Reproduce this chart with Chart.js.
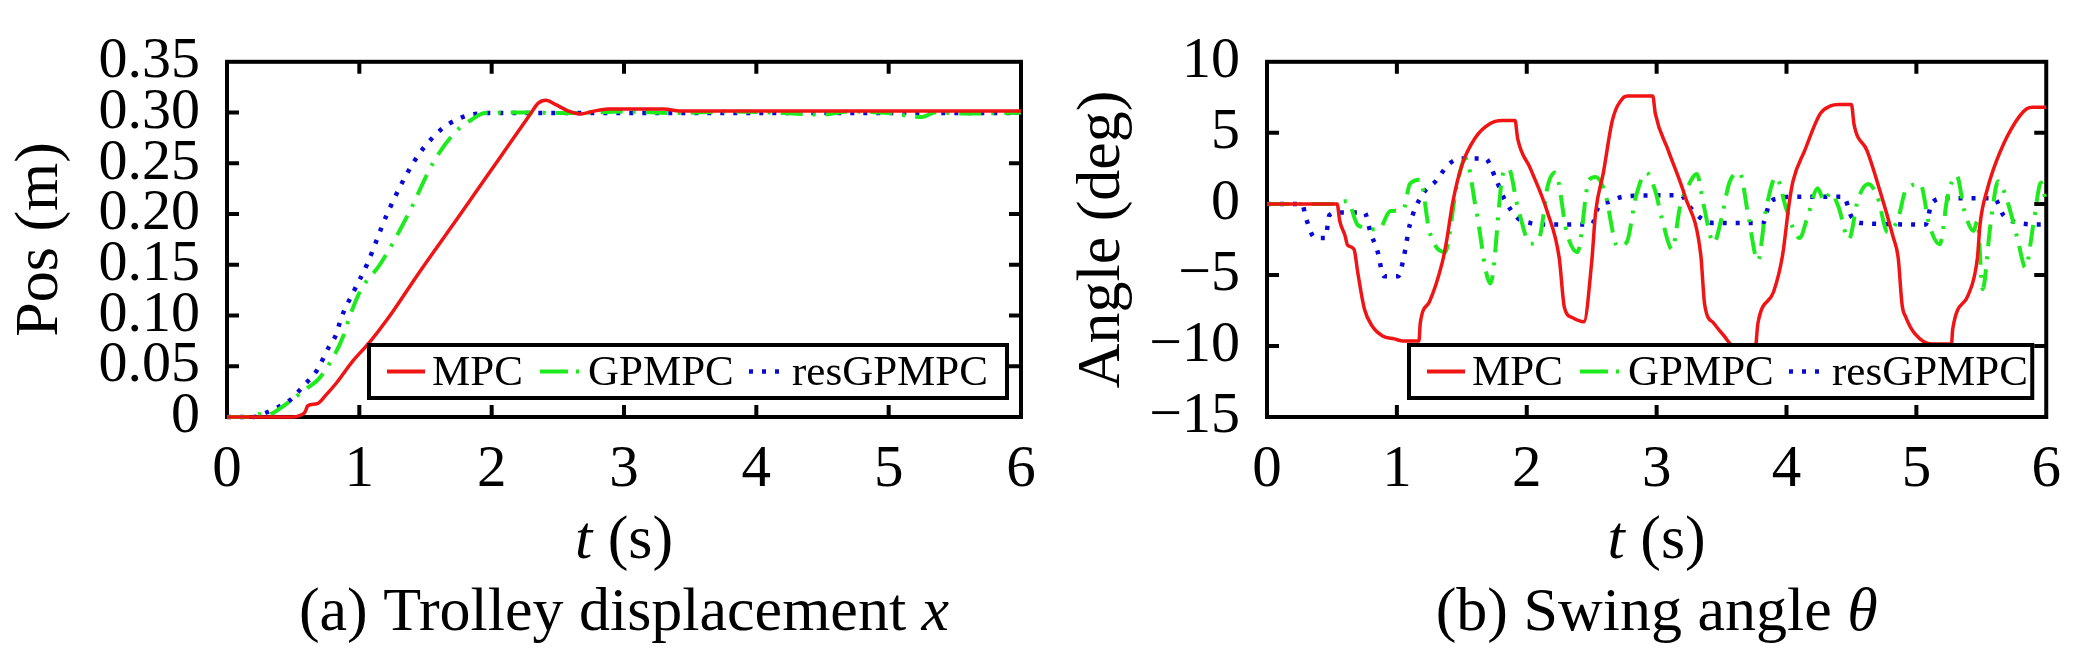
<!DOCTYPE html>
<html>
<head>
<meta charset="utf-8">
<script src="https://cdn.jsdelivr.net/npm/chart.js@4.4.1/dist/chart.umd.min.js"></script>
<style>
  html, body { margin: 0; padding: 0; background: #fff; }
  body { width: 2079px; height: 654px; position: relative; overflow: hidden; }
  canvas { position: absolute; top: 0; }
  #posChart { left: 0; }
  #angChart { left: 1062px; }
</style>
</head>
<body>
<canvas id="posChart" width="1062" height="654"></canvas>
<canvas id="angChart" width="1017" height="654"></canvas>
<script>
// series names
const seriesNames = ['MPC', 'GPMPC', 'resGPMPC'];

// (a) trolley position (m)
const tPosMpc = [0, 0.5, 0.55, 0.59, 0.61, 0.68, 0.75, 0.83, 0.95, 1.08, 1.21, 1.45, 1.77, 2.07, 2.29, 2.35, 2.41, 2.48, 2.58, 2.67, 2.76, 2.88, 3.30, 3.42, 6.0];
const posMpc = [0, 0, 0.0015, 0.005, 0.011, 0.013, 0.022, 0.034, 0.055, 0.074, 0.096, 0.142, 0.201, 0.257, 0.298, 0.309, 0.312, 0.308, 0.3015, 0.2985, 0.301, 0.3035, 0.3035, 0.3015, 0.3015];

const tPosGp = [0, 0.2, 0.24, 0.29, 0.36, 0.49, 0.60, 0.69, 0.79, 0.88, 0.93, 1.01, 1.16, 1.37, 1.56, 1.72, 1.86, 1.95, 2.3, 2.6, 3.0, 3.4, 3.8, 4.2, 4.5, 4.7, 5.0, 5.25, 5.35, 5.6, 6.0];
const posGp = [0, 0, 0.003, 0.001, 0.005, 0.017, 0.028, 0.037, 0.056, 0.08, 0.10, 0.125, 0.151, 0.20, 0.251, 0.28, 0.294, 0.2995, 0.300, 0.2995, 0.301, 0.2995, 0.301, 0.2995, 0.298, 0.301, 0.2995, 0.2955, 0.300, 0.299, 0.300];

const tPosRes = [0, 0.2, 0.27, 0.375, 0.48, 0.58, 0.68, 0.77, 0.82, 0.87, 0.955, 1.06, 1.21, 1.41, 1.59, 1.77, 1.98, 6.0];
const posRes = [0, 0, 0.003, 0.009, 0.017, 0.031, 0.046, 0.069, 0.08, 0.10, 0.123, 0.151, 0.20, 0.251, 0.28, 0.295, 0.2995, 0.2995];

// (b) swing angle (deg)
const tAngMpc = [0, 0.54, 0.56, 0.60, 0.62, 0.67, 0.70, 0.75, 0.81, 0.89, 0.98, 1.05, 1.17, 1.18, 1.25, 1.35, 1.38, 1.43, 1.50, 1.60,
  1.71, 1.81, 1.91, 1.93, 2.03, 2.16, 2.25, 2.29, 2.35, 2.44, 2.50, 2.53, 2.59, 2.66, 2.74, 2.78, 2.97, 2.99, 3.09, 3.22,
  3.34, 3.37, 3.44, 3.52, 3.59, 3.76, 3.78, 3.90, 3.97, 4.02, 4.05, 4.14, 4.26, 4.34, 4.40, 4.50, 4.52, 4.62, 4.72, 4.82,
  4.86, 4.89, 4.92, 4.99, 5.12, 5.27, 5.28, 5.40, 5.47, 5.49, 5.55, 5.62, 5.73, 5.85, 5.90, 6.0];
const angMpc = [0, 0, -1.2, -2.2, -2.9, -3.2, -4.9, -7.4, -8.6, -9.3, -9.5, -9.65, -9.65, -8.4, -6.9, -4.1, -2.75, 0.1, 2.7, 4.6,
  5.6, 5.86, 5.86, 4.6, 2.45, -0.6, -3.8, -7.3, -8.0, -8.3, -4.1, -0.6, 2.2, 5.9, 7.45, 7.6, 7.6, 6.35, 3.75, 0.5,
  -3.6, -7.1, -8.4, -9.3, -10.0, -10.1, -8.4, -6.2, -3.6, 0, 1.6, 3.75, 6.35, 6.9, 7.0, 7.0, 5.6, 3.75, 0.9, -2.3,
  -3.8, -7.1, -8.0, -9.15, -9.87, -9.87, -8.8, -6.4, -3.8, -1.45, 1.15, 3.1, 5.27, 6.7, 6.8, 6.8];

const tAngGp = [0, 0.50, 0.62, 0.70, 0.86, 0.95, 1.05, 1.10, 1.18, 1.25, 1.37, 1.46, 1.53, 1.61, 1.72, 1.82, 1.86, 1.93, 2.03, 2.10,
  2.16, 2.22, 2.31, 2.39, 2.48, 2.53, 2.60, 2.70, 2.77, 2.84, 2.92, 2.99, 3.04, 3.12, 3.18, 3.24, 3.31, 3.36, 3.44, 3.50,
  3.56, 3.64, 3.70, 3.78, 3.84, 3.92, 4.00, 4.10, 4.16, 4.24, 4.29, 4.34, 4.40, 4.48, 4.55, 4.63, 4.70, 4.78, 4.86, 4.92,
  5.03, 5.10, 5.18, 5.24, 5.31, 5.37, 5.44, 5.47, 5.51, 5.57, 5.63, 5.70, 5.78, 5.84, 5.90, 5.96, 6.0];
const angGp = [0, 0, 0.2, -1.5, -1.8, -0.5, -0.4, 1.4, 1.7, -1.9, -3.4, 1.2, 3.2, -0.4, -5.6, 2.2, 2.5, -0.2, -2.8, -2.3,
  1.2, 2.2, -2.1, -3.4, 1.7, 1.9, 0.9, -3.0, -2.7, 0.5, 2.2, 0.9, -1.0, -3.2, -0.2, 1.2, 2.1, 0, -2.75, -1.0,
  1.5, 2.2, -0.5, -4.0, -0.5, 1.9, -0.4, -2.4, -1.0, 1.1, 0.2, 0.8, -0.2, -2.5, 0.3, 1.4, 0.5, -2.0, -1.0, 1.0,
  1.4, -1.5, -2.85, 0.5, 2.0, -0.5, -1.9, -1.2, -6.0, -1.5, 1.6, 0.2, -2.5, -4.5, -1.5, 1.5, 0];

const tAngRes = [0, 0.27, 0.30, 0.37, 0.45, 0.48, 0.55, 0.75, 0.80, 0.85, 0.90, 1.01, 1.05, 1.10, 1.20, 1.30, 1.40, 1.50, 1.68, 1.76,
  1.83, 1.93, 2.03, 2.11, 2.50, 2.55, 2.64, 2.74, 3.02, 3.19, 3.24, 3.34, 3.44, 3.82, 3.87, 3.95, 4.02, 4.44, 4.50, 4.58,
  5.07, 5.12, 5.22, 5.60, 5.67, 5.75, 5.95, 6.0];
const angRes = [0, 0, -1.0, -2.4, -2.4, -0.8, -0.6, -0.6, -2.1, -3.3, -5.1, -5.1, -3.9, -1.45, 0.7, 1.6, 2.8, 3.2, 3.2, 1.8,
  0.3, -1.0, -1.35, -1.45, -1.45, -0.26, 0.17, 0.5, 0.6, 0.6, -0.05, -1.0, -1.35, -1.35, 0.07, 0.4, 0.5, 0.5, -0.9, -1.35,
  -1.45, 0.07, 0.4, 0.4, -0.8, -1.25, -1.45, -1.45];

const FONT = 'Liberation Serif';
const colMpc = 'rgb(240,20,20)';
const colGp = 'rgb(30,235,30)';
const colRes = 'rgb(10,10,215)';
const dashGp = [22, 10, 3, 10];
const dashRes = [4, 9];

function pts(ts, vs) {
  return ts.map((t, i) => ({ x: t, y: vs[i] }));
}

function makeSets(a, b, c) {
  const common = { pointRadius: 0, cubicInterpolationMode: 'monotone', clip: 4 };
  return [
    Object.assign({ label: seriesNames[0], data: a, borderColor: colMpc, borderWidth: 3.5 }, common),
    Object.assign({ label: seriesNames[1], data: b, borderColor: colGp, borderWidth: 4, borderDash: dashGp }, common),
    Object.assign({ label: seriesNames[2], data: c, borderColor: colRes, borderWidth: 4.5, borderDash: dashRes }, common)
  ];
}

// box with inward ticks under the lines, then legend, x title and caption on top
const framePlugin = {
  id: 'frame',
  beforeDatasetsDraw(chart) {
    const ctx = chart.ctx;
    const a = chart.chartArea;
    const xs = chart.scales.x, ys = chart.scales.y;
    ctx.save();
    ctx.strokeStyle = '#000';
    ctx.lineWidth = 4;
    ctx.setLineDash([]);
    ctx.strokeRect(a.left, a.top, a.right - a.left, a.bottom - a.top);
    const tl = 12;
    ctx.beginPath();
    xs.ticks.forEach(t => {
      const x = xs.getPixelForValue(t.value);
      if (x <= a.left + 1 || x >= a.right - 1) return;
      ctx.moveTo(x, a.bottom); ctx.lineTo(x, a.bottom - tl);
      ctx.moveTo(x, a.top); ctx.lineTo(x, a.top + tl);
    });
    ys.ticks.forEach(t => {
      const y = ys.getPixelForValue(t.value);
      if (y <= a.top + 1 || y >= a.bottom - 1) return;
      ctx.moveTo(a.left, y); ctx.lineTo(a.left + tl, y);
      ctx.moveTo(a.right, y); ctx.lineTo(a.right - tl, y);
    });
    ctx.stroke();
    ctx.restore();
  },
  afterDraw(chart, args, opts) {
    const ctx = chart.ctx;
    const a = chart.chartArea;
    ctx.save();
    // legend
    const lx = a.left + 142, rx = a.right - 14;
    const by = a.bottom - 19, ty = a.bottom - 72;
    ctx.fillStyle = '#fff';
    ctx.fillRect(lx, ty, rx - lx, by - ty);
    ctx.strokeStyle = '#000';
    ctx.lineWidth = 4;
    ctx.setLineDash([]);
    ctx.strokeRect(lx, ty, rx - lx, by - ty);
    const cy = (ty + by) / 2;
    ctx.font = '43px "' + FONT + '"';
    ctx.fillStyle = '#000';
    ctx.textBaseline = 'middle';
    ctx.textAlign = 'left';
    ctx.strokeStyle = colMpc;
    ctx.beginPath(); ctx.moveTo(lx + 18, cy); ctx.lineTo(lx + 56, cy); ctx.stroke();
    ctx.fillText(seriesNames[0], lx + 63, cy + 2);
    ctx.strokeStyle = colGp;
    ctx.setLineDash([28, 8, 3, 8]);
    ctx.beginPath(); ctx.moveTo(lx + 171, cy); ctx.lineTo(lx + 211, cy); ctx.stroke();
    ctx.fillText(seriesNames[1], lx + 219, cy + 2);
    ctx.strokeStyle = colRes;
    ctx.lineWidth = 4.5;
    ctx.setLineDash(dashRes);
    ctx.beginPath(); ctx.moveTo(lx + 380, cy); ctx.lineTo(lx + 416, cy); ctx.stroke();
    ctx.setLineDash([]);
    ctx.fillText(seriesNames[2], lx + 423, cy + 2);

    // x title and caption
    const mid = (a.left + a.right) / 2;
    ctx.textBaseline = 'alphabetic';
    drawMixed(ctx, [['t', true], [' (s)', false]], mid, 558, 62);
    drawMixed(ctx, opts.caption, mid, 630, 62);
    ctx.restore();
  }
};

function drawMixed(ctx, parts, cx, y, size) {
  let w = 0;
  parts.forEach(p => {
    ctx.font = (p[1] ? 'italic ' : '') + size + 'px "' + FONT + '"';
    w += ctx.measureText(p[0]).width;
  });
  let x = cx - w / 2;
  ctx.textAlign = 'left';
  parts.forEach(p => {
    ctx.font = (p[1] ? 'italic ' : '') + size + 'px "' + FONT + '"';
    ctx.fillText(p[0], x, y);
    x += ctx.measureText(p[0]).width;
  });
}

function makeOptions(yMin, yMax, yStep, yTitle, yWidth, padRight, fmt, caption) {
  return {
    responsive: false,
    animation: false,
    devicePixelRatio: 1,
    layout: { padding: { left: 0, right: padRight, top: 34, bottom: 0 } },
    plugins: {
      legend: { display: false },
      tooltip: { enabled: false },
      frame: { caption: caption }
    },
    scales: {
      x: {
        type: 'linear', min: 0, max: 6,
        grid: { display: false, drawTicks: false },
        border: { display: false },
        ticks: { stepSize: 1, padding: 18, autoSkip: false, color: '#000', font: { family: FONT, size: 59 }, maxRotation: 0 },
        afterFit(s) { s.height = 237; }
      },
      y: {
        min: yMin, max: yMax,
        grid: { display: false, drawTicks: false },
        border: { display: false },
        ticks: { stepSize: yStep, padding: 27, autoSkip: false, color: '#000', font: { family: FONT, size: 58 }, callback: fmt },
        title: { display: true, text: yTitle, color: '#000', font: { family: FONT, size: 62 }, padding: { top: 4, bottom: 0 } },
        afterFit(s) { s.width = yWidth; }
      }
    }
  };
}

new Chart(document.getElementById('posChart'), {
  type: 'line',
  data: { datasets: makeSets(pts(tPosMpc, posMpc), pts(tPosGp, posGp), pts(tPosRes, posRes)) },
  options: makeOptions(0, 0.35, 0.05, 'Pos (m)', 227, 41,
    v => (Math.abs(v) < 1e-9 ? '0' : v.toFixed(2)),
    [['(a) Trolley displacement ', false], ['x', true]]),
  plugins: [framePlugin]
});

new Chart(document.getElementById('angChart'), {
  type: 'line',
  data: { datasets: makeSets(pts(tAngMpc, angMpc), pts(tAngGp, angGp), pts(tAngRes, angRes)) },
  options: makeOptions(-15, 10, 5, 'Angle (deg)', 205, 19,
    v => (v < 0 ? '\u2212' + Math.abs(v) : String(v)),
    [['(b) Swing angle ', false], ['\u03b8', true]]),
  plugins: [framePlugin]
});
</script>
</body>
</html>
